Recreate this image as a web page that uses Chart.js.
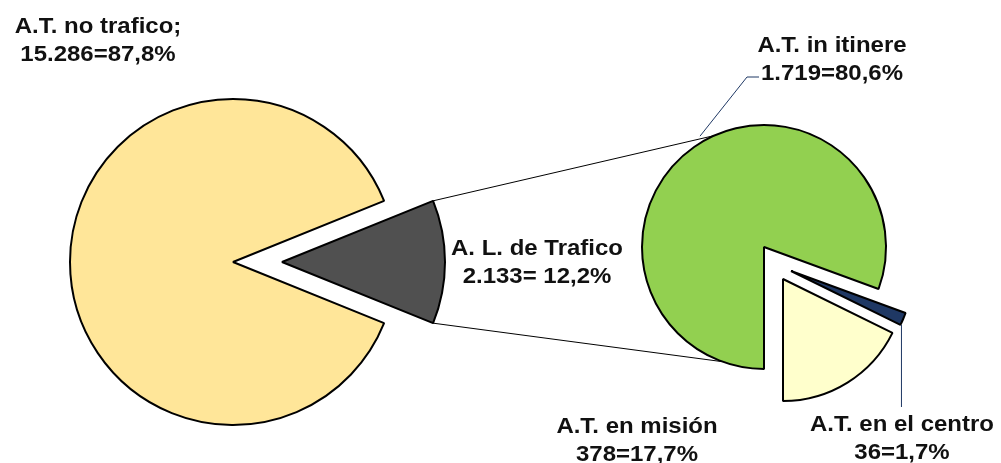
<!DOCTYPE html>
<html>
<head>
<meta charset="utf-8">
<script src="https://cdn.jsdelivr.net/npm/chart.js@4.4.1/dist/chart.umd.min.js"></script>
<style>
html, body { margin: 0; padding: 0; background: #fff; }
#wrap { position: relative; width: 1001px; height: 463px; }
#wrap canvas { position: absolute; left: 0; top: 0; }
</style>
</head>
<body>
<div id="wrap">
  <canvas id="main" width="1001" height="463"></canvas>
  <canvas id="detail" width="1001" height="463"></canvas>
</div>
<script>
// main pie: tráfico vs no tráfico
const mainLabels = ['A. L. de Trafico', 'A.T. no trafico;'];
const mainValues = [2133, 15286];
const mainSep = ['= ', '='];

// second pie: breakdown of the traffic slice
const detailLabels = ['A.T. in itinere', 'A.T. en el centro', 'A.T. en misión'];
const detailValues = [1719, 36, 378];
const detailSep = ['=', '=', '='];

const mainColors = ['#505050', '#FFE699'];
const detailColors = ['#92D050', '#1F3864', '#FFFFCC'];

function fmtInt(v) {
    return String(v).replace(/\B(?=(\d{3})+(?!\d))/g, '.');
}
function fmtPct(v, total) {
    return (v / total * 100).toFixed(1).replace('.', ',') + '%';
}
function sum(a) { return a.reduce((s, v) => s + v, 0); }

// moves single slices away from the centre (pixel shift per slice)
const explodePlugin = {
    id: 'explode',
    afterDatasetsUpdate(chart, args, opts) {
        const area = chart.chartArea;
        const cx = (area.left + area.right) / 2;
        const cy = (area.top + area.bottom) / 2;
        chart.getDatasetMeta(0).data.forEach((arc, i) => {
            const d = (opts.shift && opts.shift[i]) || [0, 0];
            arc.x = cx + d[0];
            arc.y = cy + d[1];
        });
    }
};

function pieConfig(labels, values, colors, rotation, radius, padding, shift, extra) {
    return {
        type: 'pie',
        data: {
            labels: labels,
            datasets: [{
                data: values,
                backgroundColor: colors,
                borderColor: '#000',
                borderWidth: 2,
            }]
        },
        options: {
            responsive: false,
            animation: false,
            events: [],
            rotation: rotation,
            radius: radius,
            layout: { padding: padding },
            plugins: {
                legend: { display: false },
                tooltip: { enabled: false },
                explode: { shift: shift },
            },
        },
        plugins: [explodePlugin].concat(extra || []),
    };
}

const mainTotal = sum(mainValues);
const detailTotal = sum(detailValues);

const mainChart = new Chart(document.getElementById('main'),
    pieConfig(mainLabels, mainValues, mainColors,
        90 - mainValues[0] / mainTotal * 180, 163,
        { left: 0, right: 535, top: 61, bottom: 0 },
        [[49, 0], [0, 0]]));

// label anchors: centre x and first baseline
const labelPos = {
    main: [[537, 255], [98, 33]],
    detail: [[832, 52], [902, 431], [637, 433]],
};
const lineGap = 28;

function drawLabel(ctx, lines, x, y) {
    ctx.save();
    ctx.font = 'bold 22px "Liberation Sans", Arial, sans-serif';
    ctx.fillStyle = '#111';
    ctx.textAlign = 'center';
    ctx.textBaseline = 'alphabetic';
    lines.forEach((t, k) => {
        ctx.save();
        ctx.translate(x, y + k * lineGap);
        ctx.scale(1.09, 1);
        ctx.fillText(t, 0, 0);
        ctx.restore();
    });
    ctx.restore();
}

function onCircle(arc, deg, extra) {
    const a = deg * Math.PI / 180;
    const r = arc.outerRadius + (extra || 0);
    return [arc.x + Math.cos(a) * r, arc.y + Math.sin(a) * r];
}

const overlayPlugin = {
    id: 'overlay',
    afterDraw(chart) {
        const ctx = chart.ctx;
        const src = mainChart.getDatasetMeta(0).data[0];
        const green = chart.getDatasetMeta(0).data[0];
        const navy = chart.getDatasetMeta(0).data[1];

        // connector lines from the traffic slice to the second pie
        const p1 = [src.x + Math.cos(src.startAngle) * src.outerRadius, src.y + Math.sin(src.startAngle) * src.outerRadius];
        const p2 = [src.x + Math.cos(src.endAngle) * src.outerRadius, src.y + Math.sin(src.endAngle) * src.outerRadius];
        const q1 = onCircle(green, -114);
        const q2 = onCircle(green, 110);
        ctx.save();
        ctx.strokeStyle = '#000';
        ctx.lineWidth = 1;
        ctx.beginPath();
        ctx.moveTo(p1[0], p1[1]); ctx.lineTo(q1[0], q1[1]);
        ctx.moveTo(p2[0], p2[1]); ctx.lineTo(q2[0], q2[1]);
        ctx.stroke();

        // leader lines
        ctx.strokeStyle = '#1F3864';
        const g = onCircle(green, -120, 6);
        ctx.beginPath();
        ctx.moveTo(g[0], g[1]);
        ctx.lineTo(747, 77);
        ctx.lineTo(759, 77);
        const nx = navy.x + Math.cos(navy.endAngle) * navy.outerRadius + 1;
        const ny = navy.y + Math.sin(navy.endAngle) * navy.outerRadius;
        ctx.moveTo(nx, ny);
        ctx.lineTo(nx, 407);
        ctx.stroke();
        ctx.restore();

        mainLabels.forEach((l, i) => {
            drawLabel(ctx, [l, fmtInt(mainValues[i]) + mainSep[i] + fmtPct(mainValues[i], mainTotal)],
                labelPos.main[i][0], labelPos.main[i][1]);
        });
        detailLabels.forEach((l, i) => {
            drawLabel(ctx, [l, fmtInt(detailValues[i]) + detailSep[i] + fmtPct(detailValues[i], detailTotal)],
                labelPos.detail[i][0], labelPos.detail[i][1]);
        });
    }
};

const detailChart = new Chart(document.getElementById('detail'),
    pieConfig(detailLabels, detailValues, detailColors, 180, 122,
        { left: 527, right: 0, top: 31, bottom: 0 },
        [[0, 0], [27, 24], [19, 32]],
        [overlayPlugin]));
</script>
</body>
</html>
